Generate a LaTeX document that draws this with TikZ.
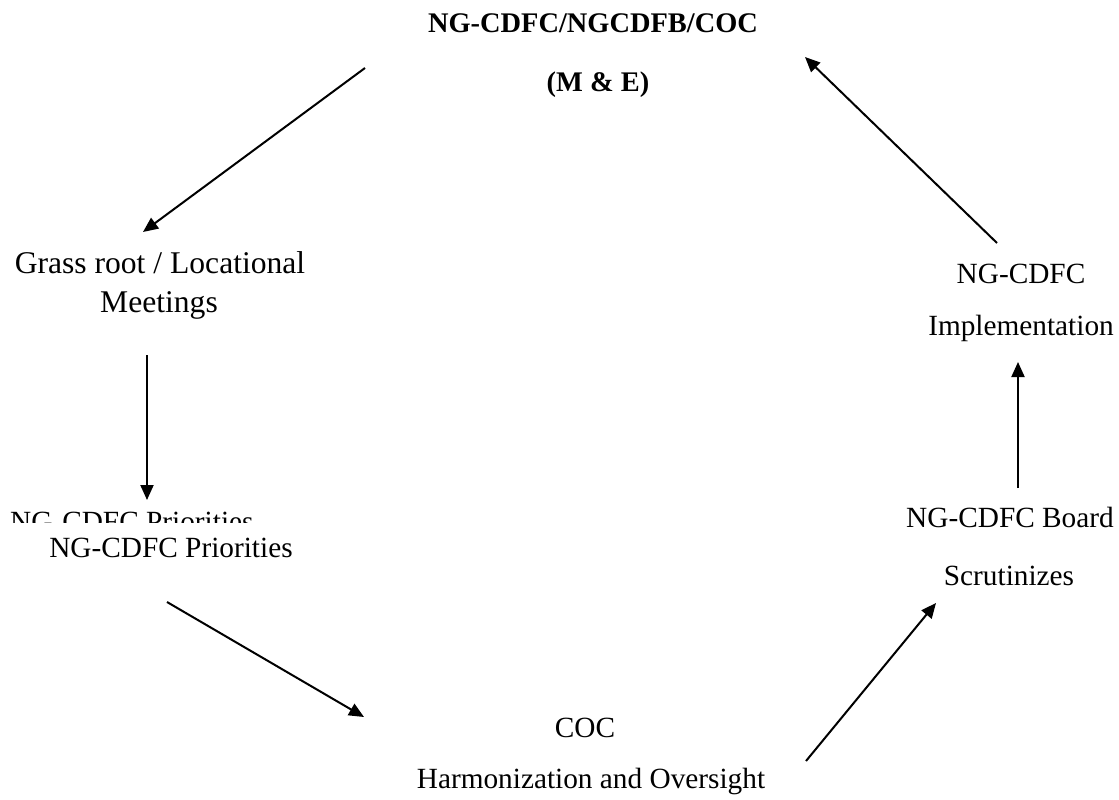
\documentclass[tikz,border=0pt]{standalone}
\usepackage{fontspec}
\setmainfont{Liberation Serif}
\usetikzlibrary{arrows.meta}
\tikzset{
  lbl/.style={anchor=base, inner sep=0pt, font=\fontsize{29.3}{34}\selectfont},
  biglbl/.style={anchor=base, inner sep=0pt, font=\fontsize{31.6}{38}\selectfont},
  ttl/.style={anchor=base, inner sep=0pt, font=\fontsize{28.4}{34}\selectfont\bfseries},
  flow/.style={line width=2pt, -{Triangle[length=15pt,width=13pt]}}
}
\begin{document}
\begin{tikzpicture}[x=1pt,y=-1pt]
\useasboundingbox (0,0) rectangle (1119,800);
% texts
\node[ttl] (t1) at (593,33) {NG-CDFC/NGCDFB/COC};
\node[ttl] (t2) at (598,92) {(M \& E)};
\node[biglbl] (g1) at (160,273) {Grass root / Locational};
\node[biglbl] (g2) at (159,312) {Meetings};
\begin{scope}
  \clip (0,440) rectangle (400,522);
  \node[lbl, anchor=base west] (pclip) at (10,531) {NG-CDFC Priorities};
\end{scope}
\node[lbl] (p) at (171,557) {NG-CDFC Priorities};
\node[lbl] (c1) at (585,737) {COC};
\node[lbl] (c2) at (591,788) {Harmonization and Oversight};
\node[lbl] (b1) at (1010,527) {NG-CDFC Board};
\node[lbl] (b2) at (1009,585) {Scrutinizes};
\node[lbl] (i1) at (1021,283) {NG-CDFC};
\node[lbl] (i2) at (1021,335) {Implementation};
% arrow endpoints
\coordinate (a1s) at (365,68);  \coordinate (a1e) at (143,232);
\coordinate (a2s) at (147,355); \coordinate (a2e) at (147,500);
\coordinate (a3s) at (167,602); \coordinate (a3e) at (364,717);
\coordinate (a4s) at (806,761); \coordinate (a4e) at (936,603);
\coordinate (a5s) at (1018,488); \coordinate (a5e) at (1018,362);
\coordinate (a6s) at (997,243); \coordinate (a6e) at (805,57);
\draw[flow] (a1s) -- (a1e);
\draw[flow] (a2s) -- (a2e);
\draw[flow] (a3s) -- (a3e);
\draw[flow] (a4s) -- (a4e);
\draw[flow] (a5s) -- (a5e);
\draw[flow] (a6s) -- (a6e);
\end{tikzpicture}
\end{document}
